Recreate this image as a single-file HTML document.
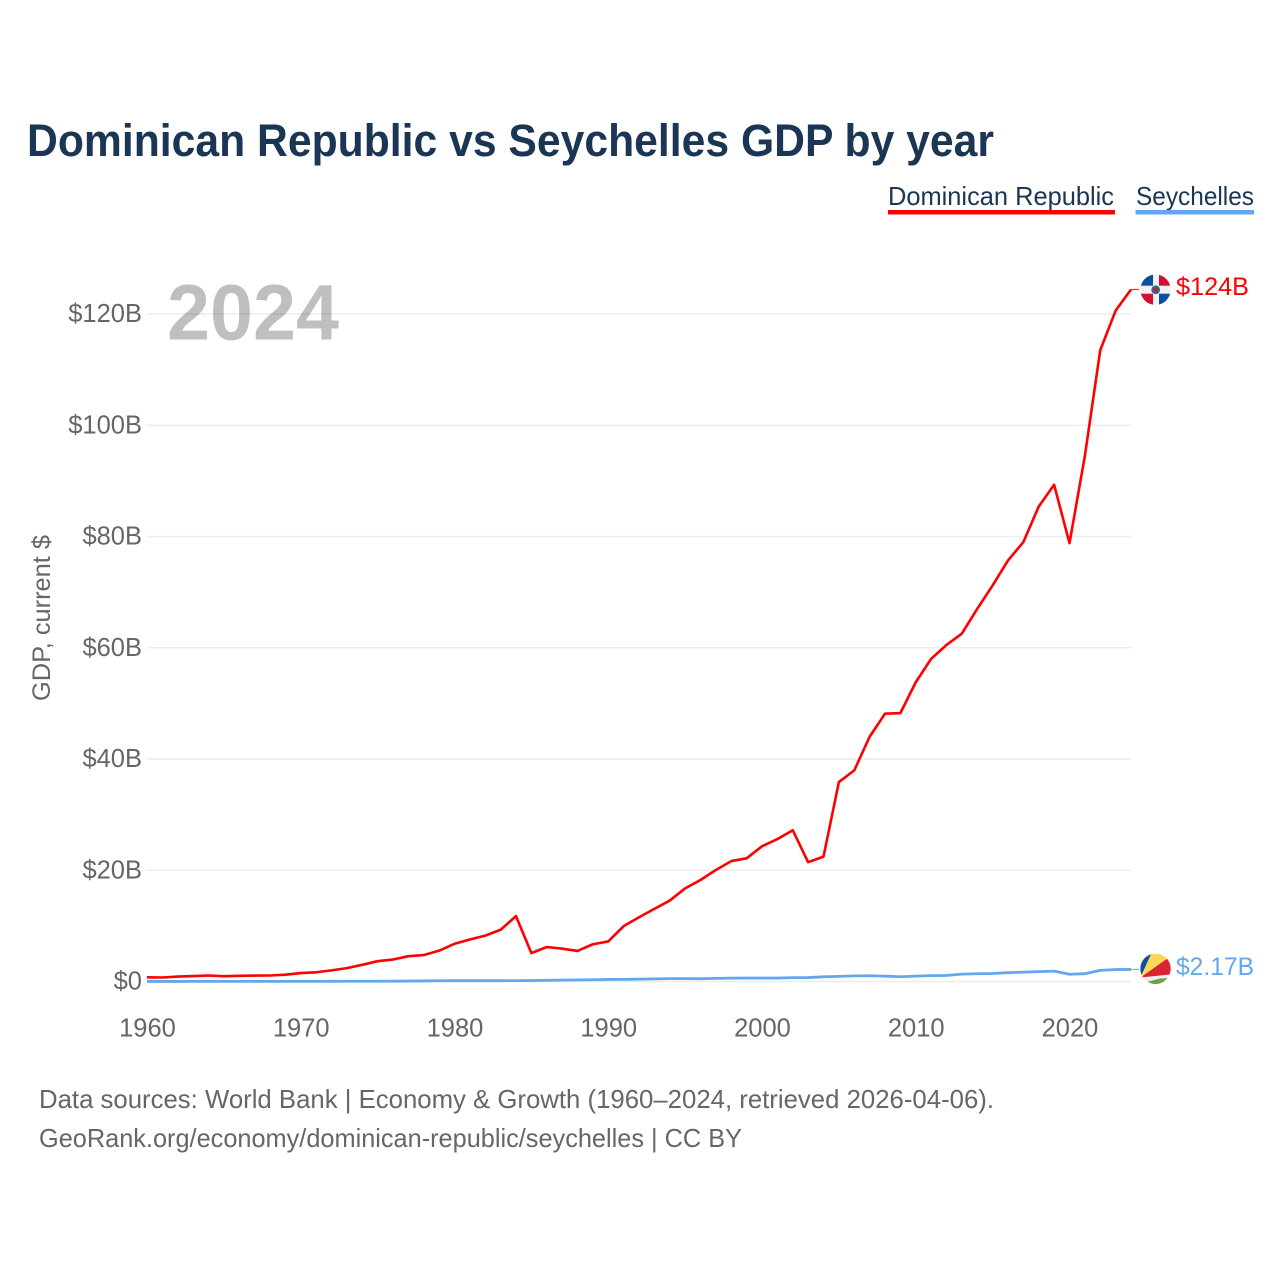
<!DOCTYPE html>
<html lang="en">
<head>
<meta charset="utf-8">
<title>Dominican Republic vs Seychelles GDP by year</title>
<style>
html,body{margin:0;padding:0;background:#fff;width:1280px;height:1280px;overflow:hidden}
svg{display:block}
text{font-family:"Liberation Sans",sans-serif}
</style>
</head>
<body>
<svg id="chart" xmlns="http://www.w3.org/2000/svg" width="1280" height="1280" viewBox="0 0 1280 1280">
  <defs>
    <clipPath id="clip-do"><circle cx="1155.5" cy="289.7" r="15.2"/></clipPath>
    <clipPath id="clip-sc"><circle cx="1155.5" cy="968.8" r="15.2"/></clipPath>
  </defs>
  <rect width="1280" height="1280" fill="#fff"/>
  <text x="27" y="156" font-size="45" font-weight="700" fill="#1b3555" textLength="967" lengthAdjust="spacingAndGlyphs">Dominican Republic vs Seychelles GDP by year</text>

  <g>
    <text x="888" y="205" font-size="26" fill="#1b3555" textLength="226" lengthAdjust="spacingAndGlyphs">Dominican Republic</text>
    <rect x="888" y="210" width="227" height="4.5" fill="#ff0000"/>
  </g>
  <g>
    <text x="1136" y="205" font-size="26" fill="#1b3555" textLength="118" lengthAdjust="spacingAndGlyphs">Seychelles</text>
    <rect x="1135.5" y="210" width="118.5" height="4.5" fill="#63a8ef"/>
  </g>

  <g id="grid"></g>
  <g id="yticks"></g>
  <g id="xticks"></g>
  <text transform="translate(50,701) rotate(-90)" font-size="25" fill="#666" textLength="166" lengthAdjust="spacingAndGlyphs">GDP, current $</text>
  <text x="167" y="339.5" font-size="79" font-weight="700" fill="#000" fill-opacity="0.25" textLength="172" lengthAdjust="spacingAndGlyphs">2024</text>
  <g id="series"></g>

  <g clip-path="url(#clip-do)">
    <rect x="1140" y="274" width="32" height="32" fill="#f2f2f2"/>
    <rect x="1140" y="274" width="13" height="11.7" fill="#0b4ea2"/>
    <rect x="1159" y="274" width="13" height="11.7" fill="#d21034"/>
    <rect x="1140" y="293.7" width="13" height="12.3" fill="#d21034"/>
    <rect x="1159" y="293.7" width="13" height="12.3" fill="#0b4ea2"/>
    <circle cx="1155.7" cy="289.8" r="4.4" fill="#2a6f8f"/>
    <circle cx="1155.7" cy="289.8" r="2.2" fill="#c4203a"/>
  </g>
  <g clip-path="url(#clip-sc)">
    <rect x="1140" y="953" width="32" height="32" fill="#efefef"/>
    <polygon points="1140.5,977.5 1140,950 1153,950" fill="#0b4ea2"/>
    <polygon points="1140.5,977.5 1153,950 1175,953" fill="#fcd856"/>
    <polygon points="1140.5,977.5 1175,953 1175,974" fill="#d92332"/>
    <polygon points="1145,982.5 1160,978.5 1172,978 1172,990 1145,990" fill="#6d9e45"/>
  </g>

  <text x="1176" y="295" font-size="25" fill="#ff0000" textLength="73" lengthAdjust="spacingAndGlyphs">$124B</text>
  <text x="1176" y="975" font-size="25" fill="#63a8ef" textLength="78" lengthAdjust="spacingAndGlyphs">$2.17B</text>

  <text x="39" y="1108" font-size="26" fill="#666" textLength="955" lengthAdjust="spacingAndGlyphs">Data sources: World Bank | Economy &amp; Growth (1960–2024, retrieved 2026-04-06).</text>
  <text x="39" y="1147" font-size="26" fill="#666" textLength="703" lengthAdjust="spacingAndGlyphs">GeoRank.org/economy/dominican-republic/seychelles | CC BY</text>
</svg>
<script>
const startYear = 1960;
const dominicanRepublic = [0.75,0.72,0.88,0.98,1.08,0.95,1.03,1.06,1.08,1.23,1.52,1.66,2.00,2.40,3.00,3.65,3.95,4.55,4.75,5.55,6.78,7.55,8.25,9.30,11.75,5.10,6.20,5.90,5.50,6.70,7.20,9.95,11.55,13.05,14.55,16.75,18.25,20.05,21.65,22.15,24.30,25.60,27.20,21.45,22.45,35.85,37.95,44.00,48.15,48.25,53.80,58.00,60.50,62.55,67.00,71.20,75.70,79.00,85.40,89.30,78.80,94.50,113.50,120.60,124.40];
const seychelles = [0.013,0.014,0.015,0.016,0.017,0.018,0.019,0.020,0.021,0.022,0.024,0.027,0.033,0.040,0.045,0.050,0.055,0.075,0.100,0.130,0.147,0.150,0.150,0.150,0.155,0.170,0.210,0.250,0.285,0.320,0.370,0.375,0.430,0.475,0.510,0.510,0.505,0.565,0.610,0.620,0.615,0.620,0.700,0.705,0.840,0.920,1.015,1.030,0.970,0.850,0.970,1.060,1.090,1.330,1.390,1.440,1.580,1.680,1.780,1.870,1.300,1.400,2.000,2.150,2.170];
const yTickValues = [0,20,40,60,80,100,120];
const yTickLabels = ['$0','$20B','$40B','$60B','$80B','$100B','$120B'];
const xTickYears = [1960,1970,1980,1990,2000,2010,2020];

const NS = 'http://www.w3.org/2000/svg';
const xScale = function (year) { return 147 + (year - 1960) * 15.375; };
const yScale = function (value) { return 981.5 - value * 5.5625; };

function make(tag, attrs, parent) {
  const el = document.createElementNS(NS, tag);
  Object.keys(attrs).forEach(function (k) { el.setAttribute(k, attrs[k]); });
  parent.appendChild(el);
  return el;
}

const gridGroup = document.getElementById('grid');
const yGroup = document.getElementById('yticks');
const xGroup = document.getElementById('xticks');
const seriesGroup = document.getElementById('series');

yTickValues.forEach(function (v, i) {
  const line = make('line', {x1: 147, x2: 1131, y1: yScale(v), y2: yScale(v), stroke: '#ececec', 'stroke-width': 1.6}, gridGroup);
  
  
  const label = make('text', {x: 142, y: yScale(v) + 8.2, 'text-anchor': 'end', 'font-size': 25.5, fill: '#666'}, yGroup);
  
  
  label.textContent = yTickLabels[i];
});

xTickYears.forEach(function (year) {
  const label = make('text', {x: xScale(year) + 0.5, y: 1036.7, 'text-anchor': 'middle', 'font-size': 25.5, fill: '#666'}, xGroup);
  
  
  label.textContent = year;
});

function linePoints(values) {
  return values.map(function (v, i) {
    return xScale(startYear + i).toFixed(2) + ',' + yScale(v).toFixed(2);
  }).join(' ');
}

const seyLine = make('polyline', {points: linePoints(seychelles), fill: 'none', stroke: '#63a8ef', 'stroke-width': 2.8, 'stroke-linejoin': 'round'}, seriesGroup);



const domLine = make('polyline', {points: linePoints(dominicanRepublic), fill: 'none', stroke: '#ff0000', 'stroke-width': 2.6, 'stroke-linejoin': 'round'}, seriesGroup);



const lastX = xScale(startYear + dominicanRepublic.length - 1);
const domEnd = yScale(dominicanRepublic[dominicanRepublic.length - 1]);
const seyEnd = yScale(seychelles[seychelles.length - 1]);

const domLeader = make('line', {x1: lastX, x2: lastX + 8, y1: domEnd, y2: domEnd, stroke: '#ff0000', 'stroke-width': 1.3, 'stroke-opacity': 0.8}, seriesGroup);



const seyLeader = make('line', {x1: lastX, x2: lastX + 8, y1: seyEnd, y2: seyEnd, stroke: '#63a8ef', 'stroke-width': 1.3, 'stroke-opacity': 0.8}, seriesGroup);


</script>
</body>
</html>
